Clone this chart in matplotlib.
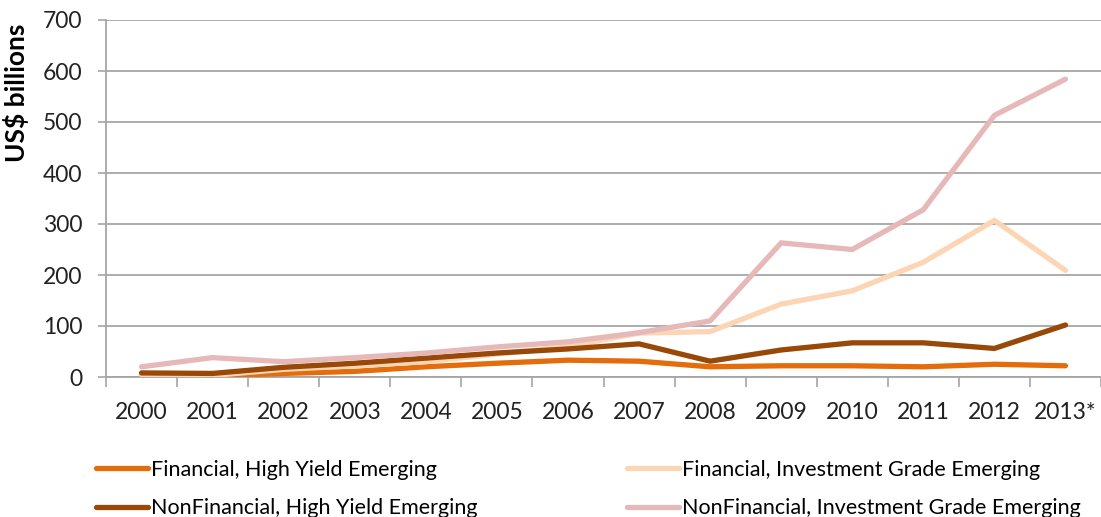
import matplotlib.pyplot as plt
import numpy as np

plt.rcParams['font.family'] = ['Lato', 'DejaVu Sans']

years = ["2000", "2001", "2002", "2003", "2004", "2005", "2006",
         "2007", "2008", "2009", "2010", "2011", "2012", "2013*"]

fin_hy = [3, 2, 7, 11, 20, 27, 33, 31, 20, 22, 22, 20, 25, 22]
fin_ig = [4, 3, 15, 22, 30, 45, 60, 86, 89, 143, 169, 225, 307, 209]
nonfin_hy = [8, 7, 19, 27, 37, 47, 55, 65, 31, 53, 67, 67, 56, 102]
nonfin_ig = [20, 38, 30, 38, 47, 59, 69, 87, 110, 263, 250, 328, 513, 584]

series = [
    ("Financial, High Yield Emerging", fin_hy, "#E46C0A"),
    ("Financial, Investment Grade Emerging", fin_ig, "#FCD5B5"),
    ("NonFinancial, High Yield Emerging", nonfin_hy, "#984807"),
    ("NonFinancial, Investment Grade Emerging", nonfin_ig, "#E6B9B8"),
]

fig = plt.figure(figsize=(11.01, 5.17), dpi=100)
ax = fig.add_axes([106 / 1101, 1 - 377 / 517, 1 - 106 / 1101, (377 - 20) / 517])

x = np.arange(len(years))
handles = {}
for name, vals, col in series:
    ln, = ax.plot(x, vals, color=col, lw=3.8, solid_capstyle='round',
                  solid_joinstyle='miter', label=name, zorder=3)
    handles[name] = ln

ax.set_xlim(-0.5, len(years) - 0.5)
ax.set_ylim(0, 700)
ax.set_yticks(range(0, 701, 100))
ax.yaxis.grid(True, color="#A6A6A6", lw=1.3)
ax.set_axisbelow(True)

# ticks at category boundaries, labels at centres
ax.set_xticks(np.arange(-0.5, len(years), 1))
ax.set_xticklabels([])
ax.set_xticks(x, minor=True)
ax.set_xticklabels(years, minor=True)
ax.tick_params(axis='x', which='major', length=7.5, width=1.2, color="#A6A6A6")
ax.tick_params(axis='x', which='minor', length=0, pad=18, labelsize=16.5, labelcolor="#222222")
ax.tick_params(axis='y', length=6, width=1.2, color="#A6A6A6", labelsize=16.5,
               labelcolor="#222222", pad=11)

for s in ["top", "right"]:
    ax.spines[s].set_visible(False)
for s in ["left", "bottom"]:
    ax.spines[s].set_color("#A6A6A6")
    ax.spines[s].set_linewidth(1.3)

ax.set_ylabel("US$ billions", fontsize=19, fontweight='bold')
ax.yaxis.set_label_coords(-0.077, 0.795)

order = ["Financial, High Yield Emerging", "NonFinancial, High Yield Emerging",
         "Financial, Investment Grade Emerging", "NonFinancial, Investment Grade Emerging"]
fig.legend([handles[n] for n in order], order, loc='upper left',
           bbox_to_anchor=(96 / 1101, 1 - 460 / 517), ncol=2, frameon=False,
           fontsize=15.5, handlelength=2.4, handletextpad=0.15, columnspacing=6.95,
           labelspacing=0.85, borderaxespad=0, borderpad=0)

plt.savefig("out.png", dpi=100)
